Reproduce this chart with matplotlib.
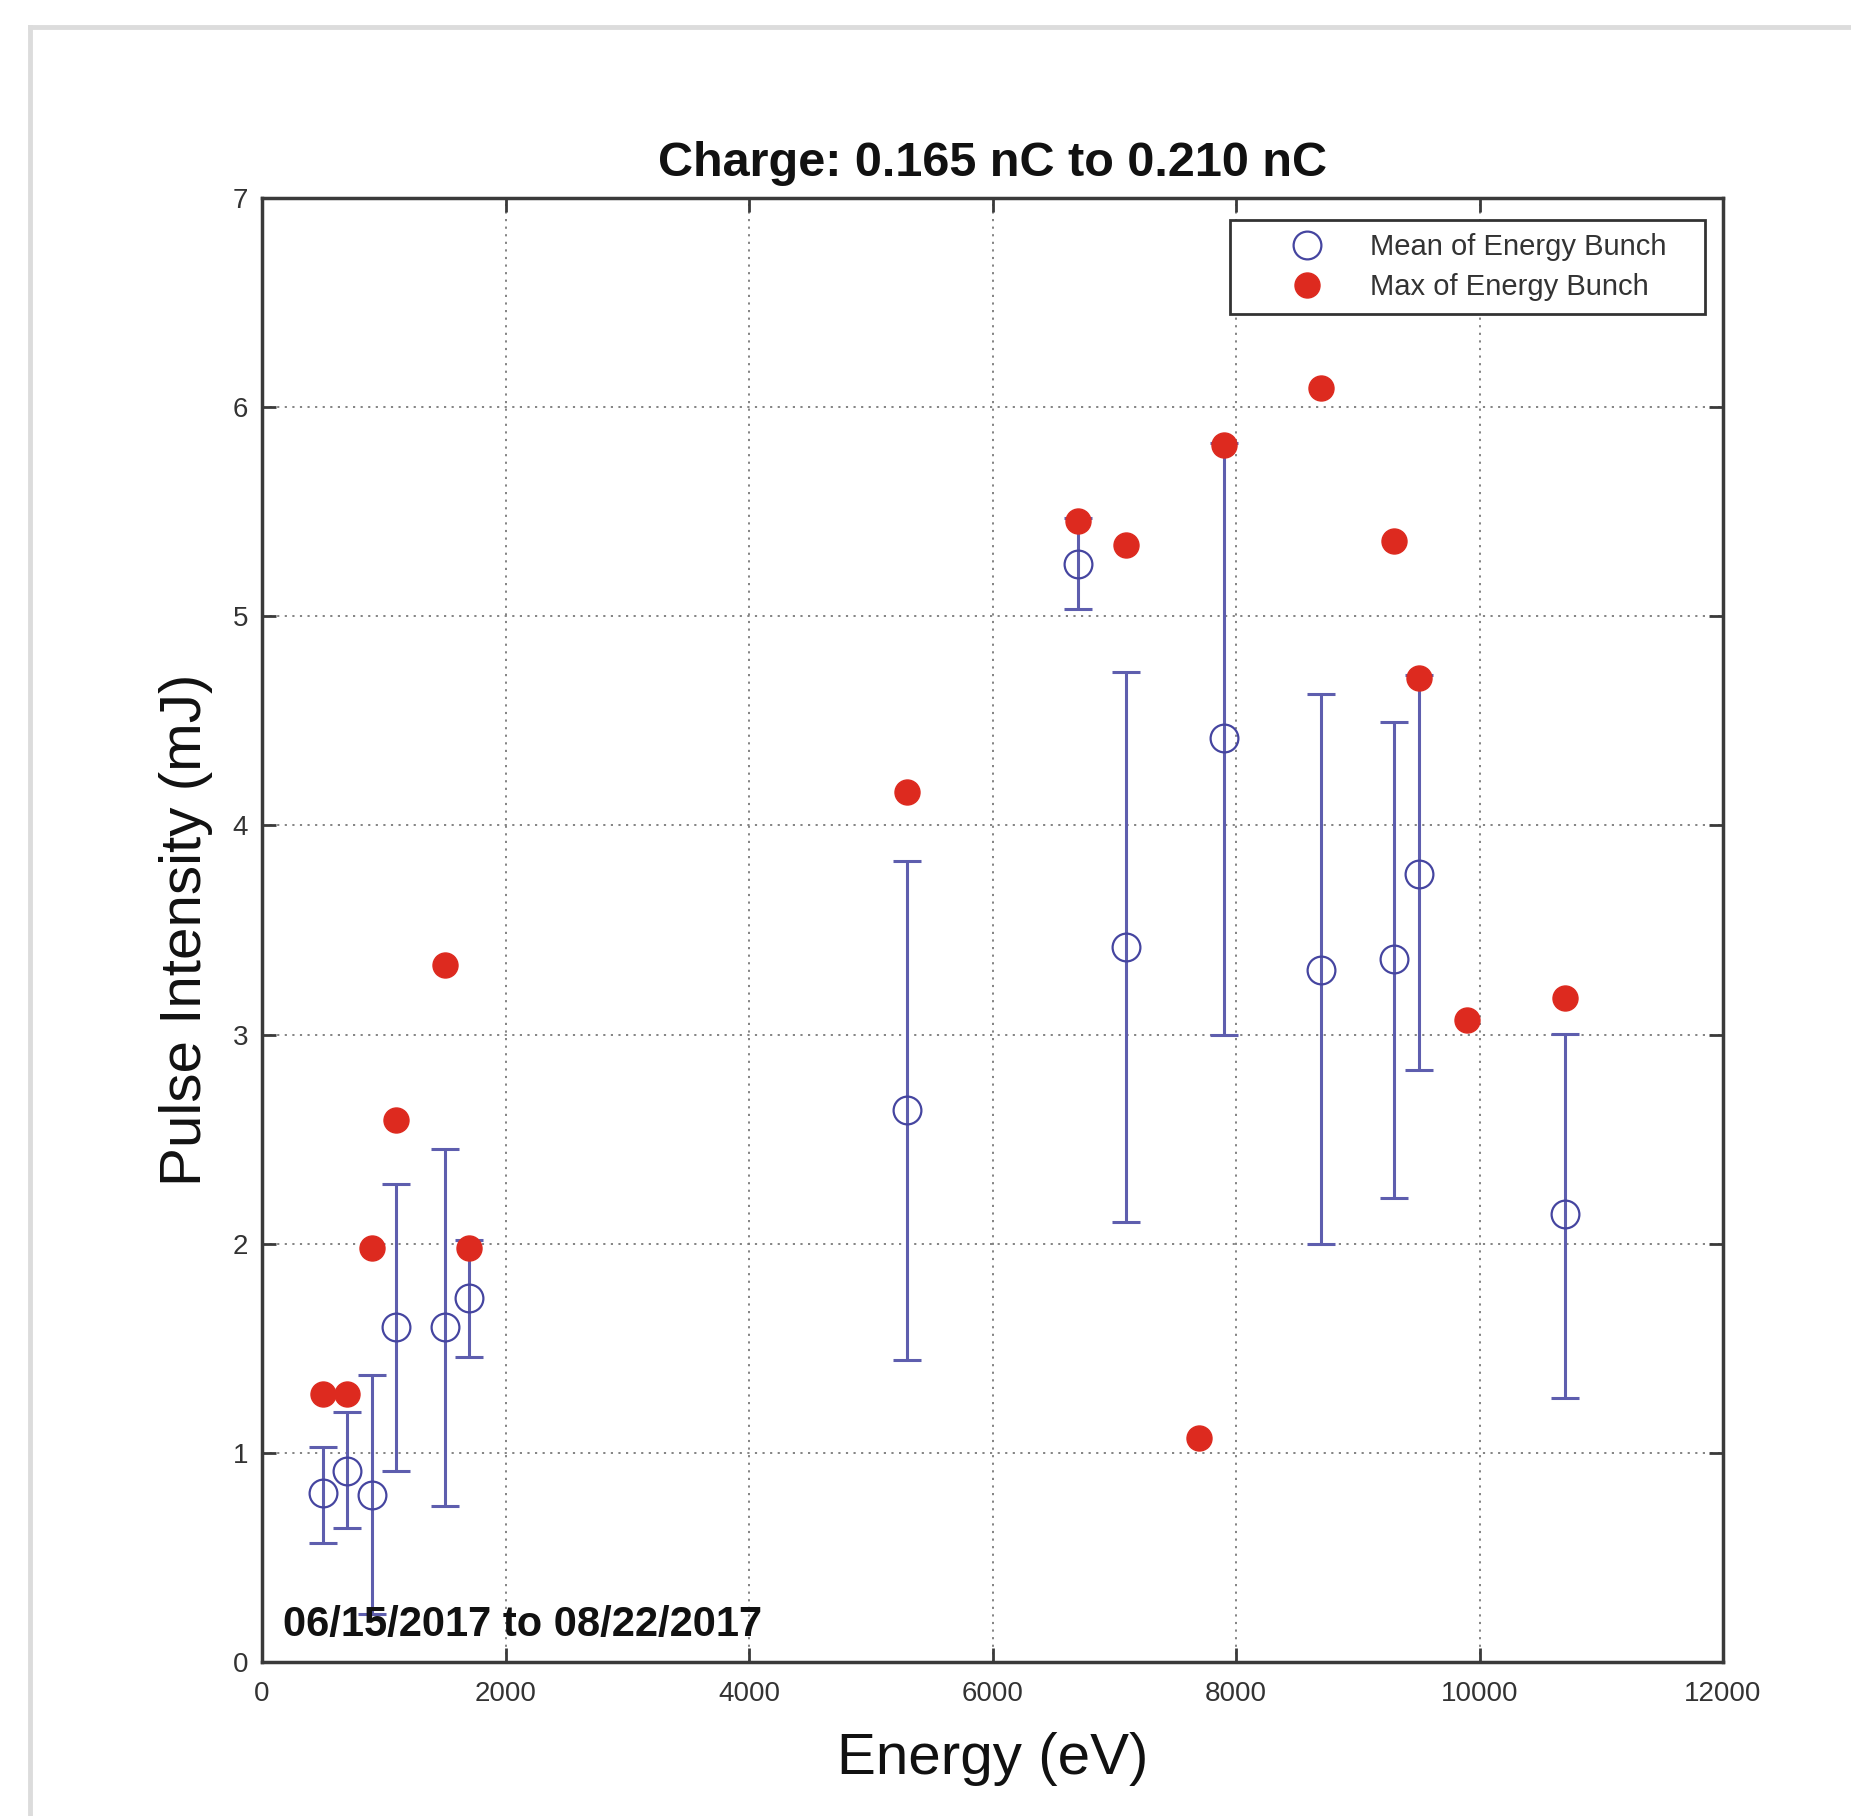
import matplotlib
matplotlib.use("Agg")
import matplotlib.pyplot as plt
from matplotlib.lines import Line2D
import numpy as np

# ---- data ----
mean_x = [500, 700, 900, 1100, 1500, 1700, 5300, 6700, 7100, 7900, 8700, 9300, 9500, 10700]
mean_y = [0.81, 0.915, 0.80, 1.60, 1.60, 1.74, 2.64, 5.25, 3.42, 4.42, 3.31, 3.36, 3.77, 2.14]
err_low = [0.57, 0.64, 0.23, 0.915, 0.745, 1.46, 1.445, 5.035, 2.105, 3.0, 2.0, 2.22, 2.83, 1.26]
err_high = [1.03, 1.195, 1.37, 2.285, 2.455, 2.02, 3.83, 5.47, 4.735, 5.83, 4.63, 4.495, 4.72, 3.005]

max_x = [500, 700, 900, 1100, 1500, 1700, 5300, 6700, 7100, 7700, 7900, 8700, 9300, 9500, 9900, 10700]
max_y = [1.28, 1.28, 1.98, 2.59, 3.335, 1.98, 4.16, 5.455, 5.34, 1.07, 5.82, 6.09, 5.36, 4.705, 3.07, 3.175]

x_ticks = [0, 2000, 4000, 6000, 8000, 10000, 12000]
y_ticks = [0, 1, 2, 3, 4, 5, 6, 7]

title = "Charge: 0.165 nC to 0.210 nC"
date_text = "06/15/2017 to 08/22/2017"
legend_labels = ["Mean of Energy Bunch", "Max of Energy Bunch"]

plt.rcParams['font.family'] = ['Liberation Sans', 'DejaVu Sans']

W, H = 1851, 1816
fig = plt.figure(figsize=(W / 100, H / 100), dpi=100)
fig.patch.set_facecolor('white')

# light gray panel border (top and left)
fig.add_artist(Line2D([30 / W, 1.0], [1 - 27 / H, 1 - 27 / H], color='#dcdcdc', lw=3.5,
                      transform=fig.transFigure))
fig.add_artist(Line2D([30 / W, 30 / W], [0.0, 1 - 27 / H], color='#dcdcdc', lw=3.5,
                      transform=fig.transFigure))

ax = fig.add_axes([262 / W, 1 - 1662 / H, (1723 - 262) / W, (1662 - 198) / H])
ax.set_xlim(0, 12000)
ax.set_ylim(0, 7)
ax.set_xticks(x_ticks)
ax.set_yticks(y_ticks)
ax.set_axisbelow(True)
ax.grid(True, linestyle=(0, (1.2, 3)), color='#7a7a7a', linewidth=1.3)

for s in ax.spines.values():
    s.set_color('#3a3a3a')
    s.set_linewidth(2.5)

ax.tick_params(direction='in', length=10, width=2, colors='#3a3a3a',
               top=True, right=True, labelsize=20, labelcolor='#333333')
ax.tick_params(axis='x', pad=14)
ax.tick_params(axis='y', pad=10)

mean_arr = np.array(mean_y)
yerr = [mean_arr - np.array(err_low), np.array(err_high) - mean_arr]
ax.errorbar(mean_x, mean_y, yerr=yerr, fmt='none', ecolor='#5e5eae', elinewidth=2.2,
            capsize=10, capthick=2.2, zorder=2)
ax.plot(mean_x, mean_y, linestyle='none', marker='o', markersize=20,
        markerfacecolor='none', markeredgecolor='#4545a0', markeredgewidth=1.6, zorder=3)
ax.plot(max_x, max_y, linestyle='none', marker='o', markersize=18,
        markerfacecolor='#dd2a1f', markeredgecolor='#dd2a1f', zorder=4)

ax.set_title(title, fontsize=35, fontweight='bold', pad=16, color='#111111')
ax.set_xlabel("Energy (eV)", fontsize=42, labelpad=18, color='#111111')
ax.set_ylabel("Pulse Intensity (mJ)", fontsize=42, labelpad=14, color='#111111')

ax.text(0.0145, 0.025, date_text, transform=ax.transAxes, fontsize=30,
        fontweight='bold', va='center', ha='left', color='#111111', zorder=6)

h1 = Line2D([], [], linestyle='none', marker='o', markersize=20, markerfacecolor='none',
            markeredgecolor='#4545a0', markeredgewidth=1.6)
h2 = Line2D([], [], linestyle='none', marker='o', markersize=18, markerfacecolor='#dd2a1f',
            markeredgecolor='#dd2a1f')
x0 = (1230 - 262) / 1461
x1 = (1705 - 262) / 1461
y1 = (1662 - 220) / 1464
leg = ax.legend([h1, h2], legend_labels, loc='upper left',
                bbox_to_anchor=(x0, y1 - 0.07, x1 - x0, 0.07), mode='expand',
                borderaxespad=0, borderpad=0.45, handlelength=4.4, handletextpad=-0.05,
                labelspacing=0.42, fontsize=21, fancybox=False, framealpha=1,
                edgecolor='#333333')
leg.get_frame().set_linewidth(2)
for t in leg.get_texts():
    t.set_color('#333333')

fig.savefig("out.png", dpi=100, facecolor='white')
